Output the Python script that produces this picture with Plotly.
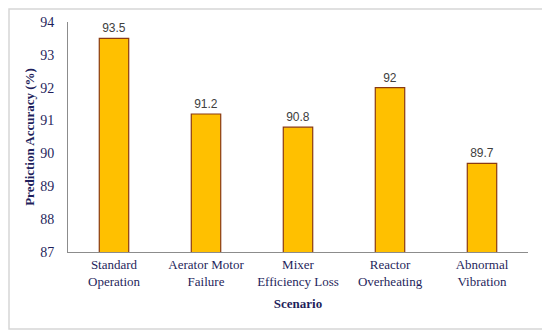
import plotly.graph_objects as go

categories = ["Standard<br>Operation", "Aerator Motor<br>Failure", "Mixer<br>Efficiency Loss",
              "Reactor<br>Overheating", "Abnormal<br>Vibration"]
accuracy = [93.5, 91.2, 90.8, 92.0, 89.7]
value_labels = ["93.5", "91.2", "90.8", "92", "89.7"]
y_ticks = [87, 88, 89, 90, 91, 92, 93, 94]

navy = "#1f1f5c"
serif = "Liberation Serif, Times New Roman, serif"

fig = go.Figure(go.Bar(
    x=categories, y=accuracy, width=0.32,
    marker=dict(color="#FFC000", line=dict(color="#8a3a12", width=1.2)),
    text=value_labels, textposition="outside", cliponaxis=False,
    textfont=dict(family="Liberation Sans, Arial, sans-serif", size=12, color="#404040"),
))

# page has an 8px body margin; figure coordinates are offset accordingly
OFF = 8
W, H = 542, 327
L, T = 68 - OFF, 22 - OFF
R = W - (528 - OFF)
B = H - (252 - OFF)
pw, ph = W - L - R, H - T - B

def px(x):
    return (x - OFF - L) / pw

def py(y):
    return (H - B - (y - OFF)) / ph

fig.add_shape(type="rect", xref="paper", yref="paper",
              x0=px(9), x1=px(544), y0=py(329), y1=py(9),
              line=dict(color="#d6d6d6", width=1.5), fillcolor="rgba(0,0,0,0)", layer="below")

fig.update_layout(
    width=W, height=H, margin=dict(l=L, r=R, t=T, b=B, autoexpand=False),
    paper_bgcolor="white", plot_bgcolor="white", showlegend=False,
    font=dict(family=serif, color=navy),
    xaxis=dict(showline=True, linecolor="#8c8c8c", linewidth=1, showgrid=False, automargin=False,
               ticks="", tickfont=dict(family=serif, size=13, color=navy),
               title=dict(text="<b>Scenario</b>", font=dict(family=serif, size=13, color=navy), standoff=11)),
    yaxis=dict(range=[87, 94], tickvals=y_ticks, showline=True, linecolor="#8c8c8c", linewidth=1,
               showgrid=False, zeroline=False, ticks="", ticklabelstandoff=10, automargin=False,
               tickfont=dict(family=serif, size=14, color=navy),
               title=dict(text="<b>Prediction Accuracy (%)</b>", font=dict(family=serif, size=13, color=navy), standoff=2)),
)

fig.write_html("out.html")
